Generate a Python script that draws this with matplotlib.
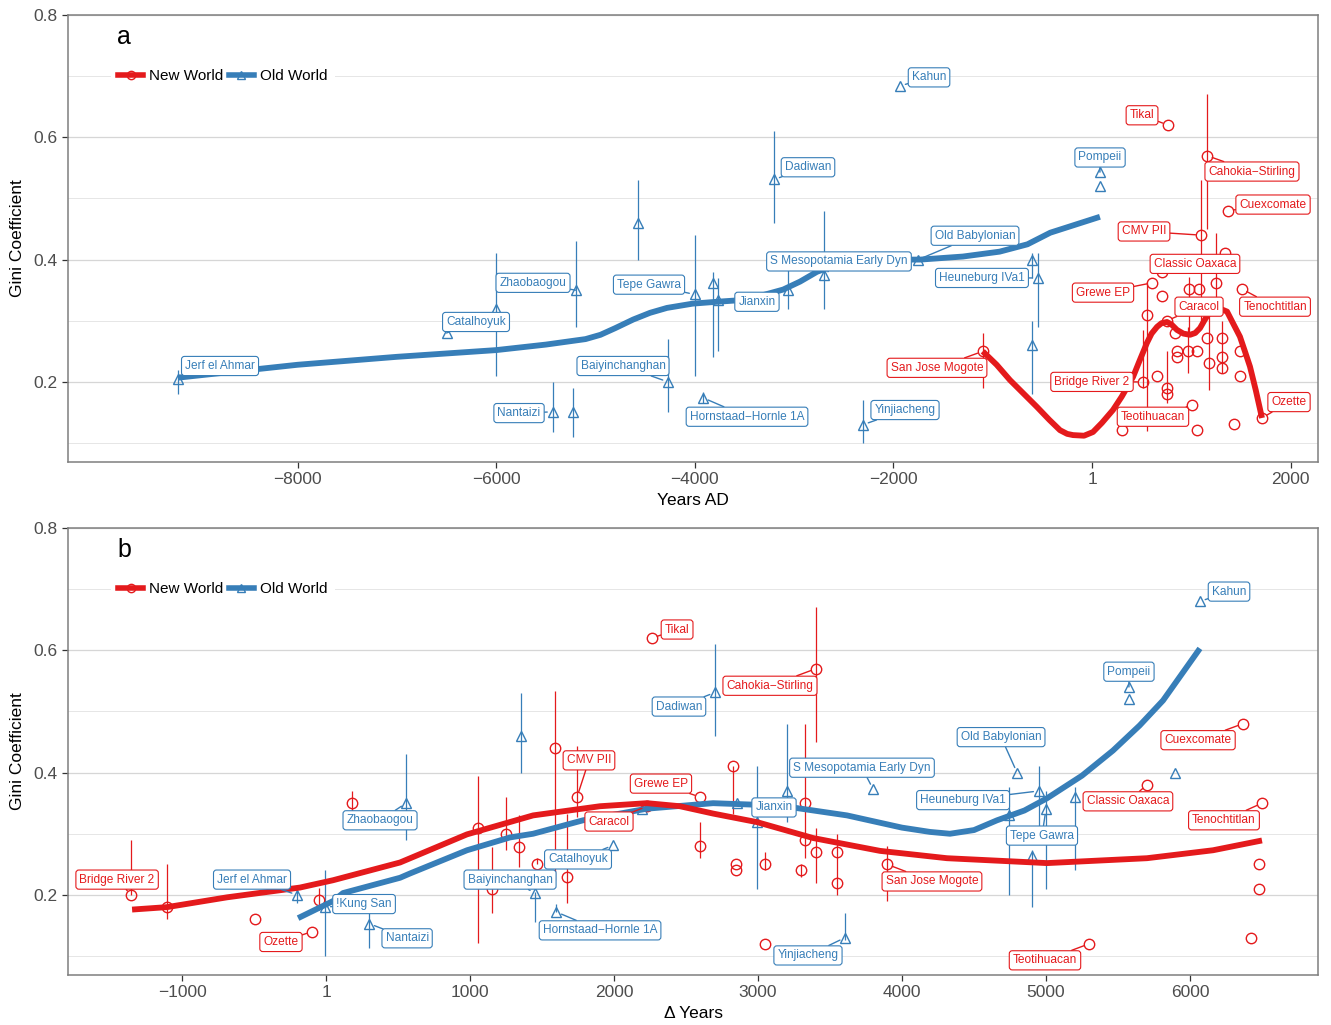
import numpy as np
import matplotlib
matplotlib.use("Agg")
import matplotlib.pyplot as plt
from matplotlib.lines import Line2D

plt.rcParams["font.family"] = ["Liberation Sans", "DejaVu Sans"]

RED = "#E41A1C"
BLUE = "#377EB8"
nan = np.nan

# ---------------- panel a: calendar years ----------------
A_OLD_SITE = ["Jerf el Ahmar", "Catalhoyuk", "", "Zhaobaogou", "", "Tepe Gawra", "", "Jianxin", "",
              "S Mesopotamia Early Dyn", "Dadiwan", "Nantaizi", "", "Baiyinchanghan",
              "Hornstaad\u2212Hornle 1A", "Yinjiacheng", "Kahun", "Pompeii", "", "Old Babylonian", "",
              "Heuneburg IVa1", ""]
A_OLD_X = [-9200, -6500, -6000, -5200, -4570, -4000, -3816, -3766, -3060, -2700, -3200, -5430, -5227,
           -4270, -3917, -2306, -1933, 80, 80, -1750, -604, -543, -604]
A_OLD_Y = [0.205, 0.28, 0.32, 0.35, 0.46, 0.343, 0.362, 0.334, 0.35, 0.374, 0.531, 0.151, 0.151,
           0.20, 0.174, 0.13, 0.684, 0.543, 0.521, 0.40, 0.40, 0.37, 0.26]
A_OLD_LO = [0.18, nan, 0.21, 0.29, 0.40, 0.21, 0.24, 0.25, 0.32, 0.32, 0.46, 0.118, 0.11,
            0.15, 0.165, 0.10, nan, nan, nan, nan, 0.37, 0.29, 0.18]
A_OLD_HI = [0.22, nan, 0.41, 0.43, 0.53, 0.44, 0.38, 0.37, 0.395, 0.48, 0.61, 0.20, 0.19,
            0.27, 0.183, 0.17, nan, nan, nan, nan, 0.41, 0.41, 0.30]

A_NEW_SITE = ["San Jose Mogote", "Tikal", "Cahokia\u2212Stirling", "Cuexcomate", "CMV PII", "", "",
              "Classic Oaxaca", "Grewe EP", "", "", "", "Tenochtitlan", "", "Caracol", "", "", "",
              "", "", "", "", "", "", "", "", "", "", "", "", "Bridge River 2", "Teotihuacan",
              "", "", "", "Ozette"]
A_NEW_X = [-1100, 765, 1158, 1370, 1098, 1340, 1248, 705, 604, 705, 977, 1078, 1510, 554, 755, 836,
           856, 856, 967, 1057, 1158, 1178, 1309, 1309, 1309, 1490, 1490, 655, 755, 755, 514, 1007,
           302, 1057, 1430, 1712]
A_NEW_Y = [0.25, 0.62, 0.57, 0.48, 0.44, 0.41, 0.362, 0.38, 0.362, 0.34, 0.352, 0.352, 0.352, 0.31,
           0.30, 0.28, 0.25, 0.24, 0.25, 0.25, 0.272, 0.231, 0.272, 0.241, 0.223, 0.25, 0.21, 0.21,
           0.19, 0.18, 0.20, 0.162, 0.121, 0.121, 0.131, 0.141]
A_NEW_LO = [0.19, nan, 0.45, nan, 0.29, nan, 0.33, nan, nan, nan, 0.28, nan, nan, 0.12,
            nan, nan, nan, nan, 0.215, nan, nan, 0.187, 0.215, nan, nan, nan, nan, nan,
            0.165, nan, 0.19, nan, nan, nan, nan, nan]
A_NEW_HI = [0.28, nan, 0.67, nan, 0.53, nan, 0.444, nan, nan, nan, 0.372, nan, nan, 0.364,
            nan, nan, nan, nan, 0.29, nan, nan, 0.313, 0.30, nan, nan, nan, nan, nan,
            0.25, nan, 0.285, nan, nan, nan, nan, nan]

A_OLD_FIT_X = [-9200, -8000, -7000, -6000, -5500, -5100, -4950, -4800, -4620, -4450, -4280, -4020,
               -3780, -3600, -3400, -3110, -2940, -2770, -2600, -2450, -2300, -2000, -1730, -1300,
               -930, -650, -420, -170, 80]
A_OLD_FIT_Y = [0.207, 0.228, 0.241, 0.252, 0.261, 0.27, 0.277, 0.288, 0.302, 0.313, 0.321, 0.328,
               0.331, 0.333, 0.338, 0.351, 0.364, 0.38, 0.39, 0.396, 0.399, 0.40, 0.40, 0.405,
               0.413, 0.425, 0.444, 0.457, 0.47]
A_NEW_FIT_X = [-1100, -960, -826, -690, -554, -430, -322, -250, -191, -80, 10, 100, 211, 300, 413,
               480, 554, 600, 655, 700, 755, 800, 856, 920, 987, 1040, 1088, 1130, 1168, 1210,
               1250, 1300, 1360, 1420, 1490, 1540, 1591, 1650, 1712]
A_NEW_FIT_Y = [0.25, 0.228, 0.203, 0.181, 0.159, 0.138, 0.121, 0.115, 0.113, 0.112, 0.118, 0.133,
               0.154, 0.176, 0.208, 0.235, 0.264, 0.279, 0.29, 0.296, 0.298, 0.294, 0.285, 0.279,
               0.277, 0.28, 0.288, 0.30, 0.31, 0.316, 0.318, 0.319, 0.315, 0.296, 0.274, 0.25,
               0.225, 0.186, 0.141]

# ---------------- panel b: years since start ----------------
B_OLD_SITE = ["Jerf el Ahmar", "!Kung San", "Nantaizi", "Zhaobaogou", "", "Baiyinchanghan",
              "Hornstaad\u2212Hornle 1A", "Catalhoyuk", "", "Dadiwan", "Jianxin", "", "",
              "Yinjiacheng", "S Mesopotamia Early Dyn", "", "Old Babylonian", "", "Heuneburg IVa1",
              "Tepe Gawra", "", "Pompeii", "", "", "Kahun"]
B_OLD_X = [-201, -7, 300, 556, 1354, 1451, 1600, 1993, 2194, 2701, 2854, 2993, 3201, 3604, 3799,
           4743, 4799, 4903, 4951, 5000, 5201, 5576, 5576, 5896, 6069]
B_OLD_Y = [0.20, 0.18, 0.153, 0.35, 0.46, 0.203, 0.172, 0.281, 0.34, 0.531, 0.35, 0.32, 0.37, 0.13,
           0.373, 0.33, 0.40, 0.263, 0.37, 0.34, 0.36, 0.54, 0.52, 0.40, 0.68]
B_OLD_LO = [0.187, 0.10, 0.113, 0.29, 0.40, 0.155, 0.172, nan, nan, 0.46, nan, 0.21, 0.32, 0.126,
            nan, 0.20, nan, 0.18, 0.31, 0.21, 0.24, nan, nan, nan, nan]
B_OLD_HI = [0.215, 0.24, 0.17, 0.43, 0.53, 0.205, 0.185, nan, nan, 0.61, nan, 0.41, 0.48, 0.17,
            nan, 0.376, nan, 0.273, 0.41, 0.37, 0.376, nan, nan, nan, nan]

B_NEW_SITE = ["Bridge River 2", "", "", "Ozette", "", "", "", "", "", "", "", "", "", "CMV PII",
              "Caracol", "Tikal", "Grewe EP", "", "", "", "", "", "", "", "", "",
              "Cahokia\u2212Stirling", "", "", "", "San Jose Mogote", "Teotihuacan", "Classic Oaxaca",
              "Cuexcomate", "", "", "", "Tenochtitlan"]
B_NEW_X = [-1354, -1104, -493, -97, -49, 181, 1056, 1153, 1250, 1340, 1465, 1590, 1674, 1743, 2230,
           2264, 2597, 2597, 2826, 2847, 2847, 3049, 3049, 3299, 3326, 3326, 3403, 3403, 3549, 3549,
           3896, 5299, 5701, 6368, 6424, 6479, 6479, 6500]
B_NEW_Y = [0.20, 0.18, 0.16, 0.14, 0.191, 0.35, 0.31, 0.209, 0.30, 0.279, 0.25, 0.44, 0.23, 0.36,
           0.345, 0.62, 0.36, 0.28, 0.41, 0.25, 0.24, 0.25, 0.12, 0.24, 0.35, 0.29, 0.57, 0.27, 0.27,
           0.22, 0.25, 0.12, 0.38, 0.48, 0.13, 0.25, 0.21, 0.35]
B_NEW_LO = [0.20, 0.16, nan, nan, 0.175, 0.33, 0.121, 0.17, 0.273, 0.245, 0.25, 0.224, 0.186, 0.327,
            nan, nan, nan, 0.26, 0.333, nan, nan, 0.24, nan, 0.23, 0.26, nan, 0.45, 0.22, 0.20,
            nan, 0.19, nan, nan, nan, nan, nan, nan, nan]
B_NEW_HI = [0.29, 0.25, nan, nan, 0.212, 0.37, 0.395, 0.278, 0.36, 0.33, 0.26, 0.534, 0.333, 0.444,
            nan, nan, nan, 0.32, 0.41, nan, nan, 0.27, nan, 0.25, 0.48, nan, 0.67, 0.31, 0.30,
            nan, 0.28, nan, nan, nan, nan, nan, nan, nan]

B_OLD_FIT_X = [-194, 49, 118, 514, 583, 979, 1278, 1438, 1785, 2229, 2688, 3153, 3618, 3847, 4000,
               4194, 4333, 4500, 4660, 4850, 5007, 5250, 5465, 5650, 5813, 6069]
B_OLD_FIT_Y = [0.162, 0.19, 0.203, 0.228, 0.235, 0.273, 0.294, 0.30, 0.322, 0.341, 0.35, 0.346,
               0.33, 0.318, 0.31, 0.303, 0.30, 0.306, 0.322, 0.338, 0.358, 0.395, 0.436, 0.477,
               0.518, 0.603]
B_NEW_FIT_X = [-1347, -1104, -688, -181, 49, 514, 979, 1438, 1903, 2229, 2458, 2688, 2993, 3382,
               3847, 4312, 5007, 5701, 6160, 6500]
B_NEW_FIT_Y = [0.176, 0.18, 0.196, 0.212, 0.224, 0.253, 0.299, 0.33, 0.345, 0.35, 0.345, 0.333,
               0.319, 0.293, 0.272, 0.26, 0.252, 0.26, 0.273, 0.289]

# label box positions (data coordinates), layout only
A_LABEL_POS = {
    "Jerf el Ahmar": (-8781, 0.226), "Catalhoyuk": (-6203, 0.298), "Zhaobaogou": (-5629, 0.362),
    "Tepe Gawra": (-4461, 0.359), "Jianxin": (-3374, 0.331), "Dadiwan": (-2860, 0.551),
    "S Mesopotamia Early Dyn": (-2548, 0.397), "Old Babylonian": (-1178, 0.439),
    "Heuneburg IVa1": (-1108, 0.370), "Kahun": (-1641, 0.698), "Pompeii": (81, 0.567),
    "Baiyinchanghan": (-4723, 0.226), "Nantaizi": (-5770, 0.149),
    "Hornstaad\u2212Hornle 1A": (-3474, 0.143), "Yinjiacheng": (-1883, 0.154),
    "Tikal": (504, 0.636), "Cahokia\u2212Stirling": (1611, 0.544), "Cuexcomate": (1823, 0.490),
    "CMV PII": (524, 0.446), "Classic Oaxaca": (1037, 0.393), "Grewe EP": (111, 0.346),
    "Caracol": (1078, 0.323), "Tenochtitlan": (1843, 0.323), "San Jose Mogote": (-1561, 0.223),
    "Bridge River 2": (0, 0.200), "Teotihuacan": (614, 0.143), "Ozette": (1984, 0.167),
}
B_LABEL_POS = {
    "Bridge River 2": (-1451, 0.225), "Ozette": (-313, 0.123), "Tikal": (2438, 0.634),
    "Cahokia\u2212Stirling": (3083, 0.542), "CMV PII": (1826, 0.420), "Grewe EP": (2326, 0.382),
    "Caracol": (1965, 0.320), "San Jose Mogote": (4208, 0.222), "Teotihuacan": (4993, 0.093),
    "Cuexcomate": (6056, 0.453), "Classic Oaxaca": (5569, 0.353), "Tenochtitlan": (6236, 0.322),
    "Zhaobaogou": (375, 0.322), "Jerf el Ahmar": (-514, 0.225), "!Kung San": (264, 0.185),
    "Nantaizi": (563, 0.129), "Baiyinchanghan": (1278, 0.225), "Catalhoyuk": (1750, 0.258),
    "Hornstaad\u2212Hornle 1A": (1903, 0.142), "Dadiwan": (2451, 0.508), "Jianxin": (3111, 0.343),
    "S Mesopotamia Early Dyn": (3722, 0.408), "Yinjiacheng": (3347, 0.101),
    "Old Babylonian": (4688, 0.458), "Heuneburg IVa1": (4424, 0.355), "Tepe Gawra": (4972, 0.297),
    "Pompeii": (5576, 0.565), "Kahun": (6271, 0.696),
}


def draw_group(ax, xs, ys, lo, hi, sites, fx, fy, color, marker, label_pos):
    xs = np.asarray(xs, float)
    ys = np.asarray(ys, float)
    lo = np.asarray(lo, float)
    hi = np.asarray(hi, float)
    ok = ~np.isnan(lo)
    ax.vlines(xs[ok], lo[ok], hi[ok], color=color, lw=0.9, zorder=2)
    ax.plot(xs, ys, linestyle="none", marker=marker, ms=7.5, mfc="none", mec=color, mew=1.0,
            zorder=3)
    ax.plot(fx, fy, color=color, lw=4.2, solid_capstyle="butt", solid_joinstyle="round",
            zorder=4)
    for s, x, y in zip(sites, xs, ys):
        if not s:
            continue
        tx, ty = label_pos[s]
        ax.annotate(s, xy=(x, y), xytext=(tx, ty), ha="center", va="center", fontsize=8.6,
                    color=color, zorder=6,
                    bbox=dict(boxstyle="round,pad=0.3,rounding_size=0.25", fc="white", ec=color,
                              lw=0.8),
                    arrowprops=dict(arrowstyle="-", color=color, lw=1.0, shrinkA=0, shrinkB=4))


def style_axes(ax, xlim, xticks, xticklabels, xlabel, letter):
    ax.set_xlim(*xlim)
    ax.set_ylim(0.069, 0.80)
    ax.set_xticks(xticks)
    ax.set_xticklabels(xticklabels)
    ax.set_yticks([0.2, 0.4, 0.6, 0.8])
    ax.set_yticks([0.1, 0.3, 0.5, 0.7], minor=True)
    ax.grid(axis="y", which="major", color="#d6d6d6", lw=0.9, zorder=0)
    ax.grid(axis="y", which="minor", color="#e6e6e6", lw=0.7, zorder=0)
    ax.set_axisbelow(True)
    ax.tick_params(axis="both", which="major", labelsize=12.5, labelcolor="#4d4d4d",
                   color="#333333", length=4, width=0.9)
    ax.tick_params(axis="y", which="minor", length=0)
    for sp in ax.spines.values():
        sp.set_color("#7f7f7f")
        sp.set_linewidth(1.1)
    ax.set_ylabel("Gini Coefficient", fontsize=12.5, labelpad=6)
    ax.set_xlabel(xlabel, fontsize=12.5, labelpad=4)
    ax.text(0.045, 0.95, letter, transform=ax.transAxes, fontsize=18, va="center", ha="center")
    handles = [Line2D([], [], color=RED, lw=4, marker="o", ms=6, mfc="none", mec=RED),
               Line2D([], [], color=BLUE, lw=4, marker="^", ms=6, mfc="none", mec=BLUE)]
    leg = ax.legend(handles, ["New World", "Old World"], loc="center left",
                    bbox_to_anchor=(0.028, 0.8635), ncol=2, frameon=True, fontsize=11,
                    handlelength=1.6, handletextpad=0.4, columnspacing=0.4, borderpad=0.5)
    leg.get_frame().set_edgecolor("none")
    leg.get_frame().set_facecolor("white")
    leg.get_frame().set_alpha(1)
    leg.set_zorder(7)


fig = plt.figure(figsize=(13.31, 10.25), dpi=100)
ax_a = fig.add_axes([68 / 1331, 1 - 462 / 1025, 1250 / 1331, 447 / 1025])
ax_b = fig.add_axes([68 / 1331, 1 - 975 / 1025, 1250 / 1331, 447 / 1025])

draw_group(ax_a, A_OLD_X, A_OLD_Y, A_OLD_LO, A_OLD_HI, A_OLD_SITE, A_OLD_FIT_X, A_OLD_FIT_Y,
           BLUE, "^", A_LABEL_POS)
draw_group(ax_a, A_NEW_X, A_NEW_Y, A_NEW_LO, A_NEW_HI, A_NEW_SITE, A_NEW_FIT_X, A_NEW_FIT_Y,
           RED, "o", A_LABEL_POS)
style_axes(ax_a, (-10312, 2276), [-8000, -6000, -4000, -2000, 1, 2000],
           ["\u22128000", "\u22126000", "\u22124000", "\u22122000", "1", "2000"], "Years AD", "a")

draw_group(ax_b, B_OLD_X, B_OLD_Y, B_OLD_LO, B_OLD_HI, B_OLD_SITE, B_OLD_FIT_X, B_OLD_FIT_Y,
           BLUE, "^", B_LABEL_POS)
draw_group(ax_b, B_NEW_X, B_NEW_Y, B_NEW_LO, B_NEW_HI, B_NEW_SITE, B_NEW_FIT_X, B_NEW_FIT_Y,
           RED, "o", B_LABEL_POS)
style_axes(ax_b, (-1792, 6889), [-1000, 1, 1000, 2000, 3000, 4000, 5000, 6000],
           ["\u22121000", "1", "1000", "2000", "3000", "4000", "5000", "6000"], "\u0394 Years", "b")

fig.savefig("out.png", dpi=100)
